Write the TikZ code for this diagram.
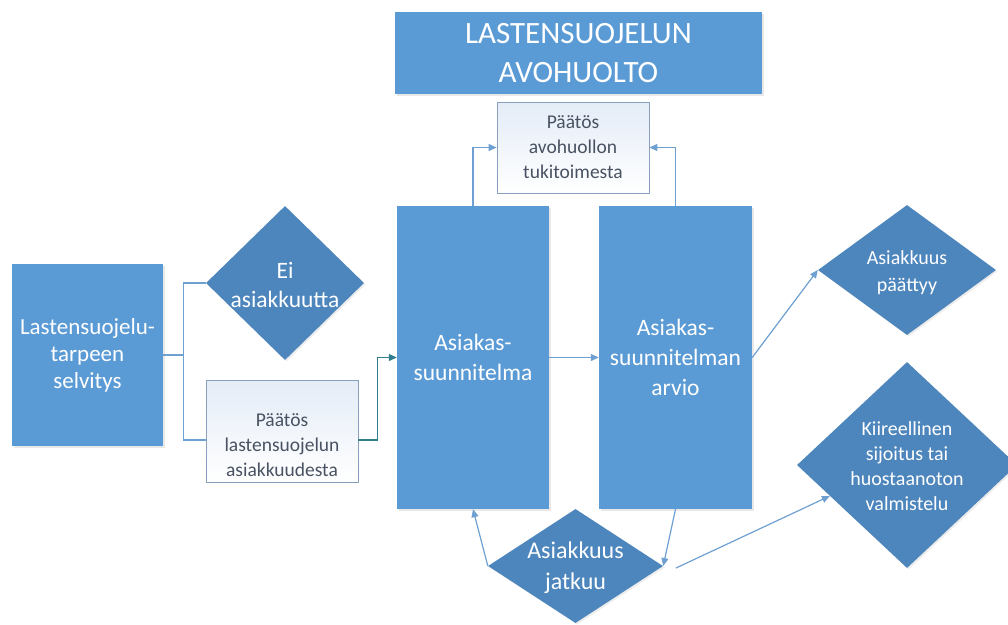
\documentclass[tikz,border=0pt]{standalone}
\usepackage{fontspec}
\setmainfont{Carlito}
\usetikzlibrary{shapes.geometric,arrows.meta,calc,shadows}
\definecolor{boxblue}{RGB}{91,155,213}
\definecolor{diablue}{RGB}{77,133,189}
\definecolor{linecol}{RGB}{110,160,210}
\definecolor{tealcol}{RGB}{47,127,140}
\definecolor{wbord}{RGB}{135,160,190}
\definecolor{wtext}{RGB}{72,82,98}
\definecolor{wtop}{RGB}{228,236,247}
\begin{document}
\begin{tikzpicture}[x=1pt,y=-1pt,
  bluebox/.style={draw=none, fill=boxblue, text=white, align=center, inner sep=0pt,
    drop shadow={opacity=0.18, shadow xshift=1.5pt, shadow yshift=-1.5pt}},
  whitebox/.style={draw=wbord, line width=0.8pt, top color=wtop, bottom color=white,
    text=wtext, align=center, inner sep=0pt},
  dia/.style={shape=diamond, draw=none, fill=diablue, inner sep=0pt,
    drop shadow={opacity=0.15, shadow xshift=1.5pt, shadow yshift=-1.5pt}},
  dtext/.style={text=white, align=center, inner sep=0pt},
  conn/.style={draw=linecol, line width=1.2pt},
  arr/.style={conn, -{Triangle[length=8pt,width=7pt]}},
]
\useasboundingbox (0,0) rectangle (1008,624);

% boxes
\node[bluebox, minimum width=367pt, minimum height=82pt,
  font=\fontsize{31}{39}\selectfont] (title) at (578.5,53) {LASTENSUOJELUN\\AVOHUOLTO};
\node[whitebox, minimum width=152pt, minimum height=91pt,
  font=\fontsize{19.5}{25}\selectfont] (pa) at (573,147.5) {Päätös\\avohuollon\\tukitoimesta};
\node[bluebox, minimum width=151pt, minimum height=182pt,
  font=\fontsize{23}{27}\selectfont] (lb) at (87.5,355) {Lastensuojelu-\\tarpeen\\selvitys};
\node[whitebox, minimum width=152pt, minimum height=102pt] (pl) at (282,431) {};
\node[text=wtext, align=center, inner sep=0pt, font=\fontsize{19.5}{25}\selectfont]
  (plt) at (282,445) {Päätös\\lastensuojelun\\asiakkuudesta};
\node[bluebox, minimum width=152pt, minimum height=303pt,
  font=\fontsize{23.5}{30}\selectfont] (as) at (473,357.5) {Asiakas-\\suunnitelma};
\node[bluebox, minimum width=153pt, minimum height=303pt,
  font=\fontsize{23.5}{30}\selectfont] (ar) at (675.5,357.5) {Asiakas-\\suunnitelman\\arvio};

% diamonds
\node[dia, minimum width=158pt, minimum height=154pt] (ei) at (285,283) {};
\node[dtext, font=\fontsize{23.5}{29}\selectfont] (eit) at (285,285) {Ei\\asiakkuutta};
\node[dia, minimum width=178pt, minimum height=130pt] (pt) at (907,270) {};
\node[dtext, font=\fontsize{20}{27}\selectfont] (ptt) at (907,273) {Asiakkuus\\päättyy};
\node[dia, minimum width=220pt, minimum height=206pt] (ki) at (907,465) {};
\node[dtext, font=\fontsize{20}{25}\selectfont] (kit) at (907,466) {Kiireellinen\\sijoitus tai\\huostaanoton\\valmistelu};
\node[dia, minimum width=175pt, minimum height=114pt] (ja) at (575.5,566) {};
\node[dtext, font=\fontsize{24}{31}\selectfont] (jat) at (575.5,568) {Asiakkuus\\jatkuu};

% connectors
\coordinate (split) at ($(lb.east)+(20,0)$);
\draw[conn] (lb.east) -- (split);
\draw[conn] (split) |- (ei.west);
\draw[conn] (split) |- ([yshift=-9pt]pl.west);
\draw[conn, draw=tealcol, -{Triangle[length=8pt,width=7pt]}]
  ([yshift=-9pt]pl.east) -- ++(19,0) |- (as.west);
\draw[arr] (as.east) -- (ar.west);
\draw[arr] (as.north) |- (pa.west);
\draw[arr] (ar.north) |- (pa.east);
\draw[arr] (ar.east) -- (pt.west);
\draw[arr] (ar.south) -- (ja.east);
\draw[arr] (ja.west) -- (as.south);
\coordinate (free) at (676,568);
\draw[arr] (free) -- ($(ki.west)!0.3!(ki.south)$);
\end{tikzpicture}
\end{document}
